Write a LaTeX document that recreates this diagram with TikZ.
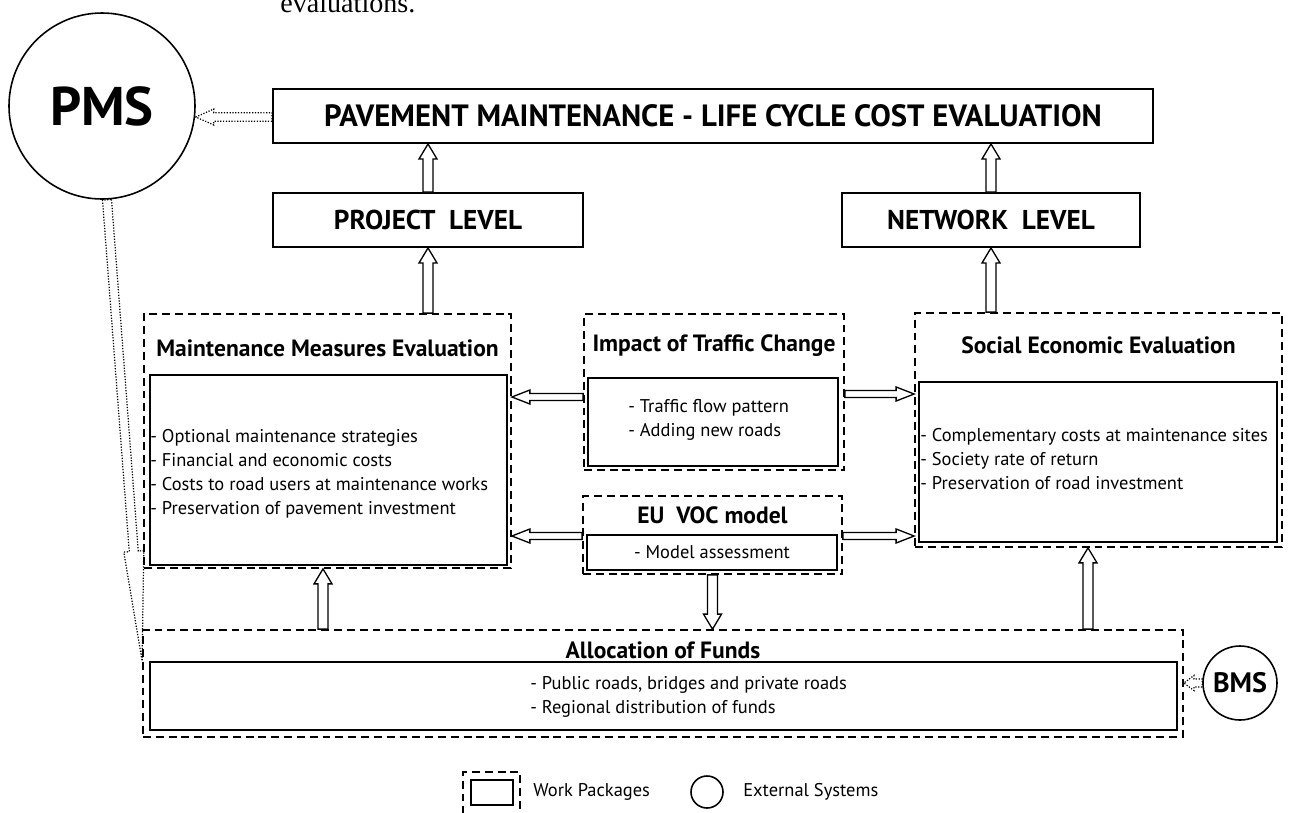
\documentclass[tikz,border=0pt]{standalone}
\usepackage{fontspec}
\setmainfont{PT Sans}
\newfontfamily\bodyserif{Liberation Serif}
\usetikzlibrary{calc,fit}

% hollow block arrow: [options]{start}{tip}{shaft half width}{head half width}{head length}
\newcommand\blockarrow[6][]{%
  \coordinate (hb) at ($(#3)!#6!(#2)$);
  \draw[arrowline,#1]
    ($(#2)!#4!90:(#3)$) -- ($(hb)!#4!90:(#3)$) -- ($(hb)!#5!90:(#3)$) --
    (#3) --
    ($(hb)!#5!-90:(#3)$) -- ($(hb)!#4!-90:(#3)$) -- ($(#2)!#4!-90:(#3)$) -- cycle;
}

\begin{document}
\begin{tikzpicture}[x=0.02cm,y=-0.02cm,
  sbox/.style={draw, line width=1.1pt, inner sep=0pt},
  dbox/.style={draw, line width=1pt, dash pattern=on 4.5pt off 2.8pt, inner sep=0pt},
  arrowline/.style={line width=0.75pt, fill=white},
  dotline/.style={line width=0.7pt, dash pattern=on 0.7pt off 0.9pt, fill=none},
  ttl/.style={font=\bfseries\fontsize{13.4}{15}\selectfont, inner sep=0pt},
  lvl/.style={font=\bfseries\fontsize{15.5}{17}\selectfont, inner sep=0pt},
  lst/.style={font=\fontsize{10.5}{13.6}\selectfont, align=left, inner sep=0pt},
  leg/.style={font=\fontsize{10.5}{12}\selectfont, inner sep=0pt, anchor=west},
]
\useasboundingbox (0,0) rectangle (1295,812);

% fragment of running text above the figure
\node[anchor=base west, inner sep=0pt, font=\bodyserif\fontsize{16}{18}\selectfont] (txt) at (280,12) {evaluations.};

% external systems
\node[draw, circle, line width=0.9pt, minimum size=186*0.02cm, inner sep=0pt,
      font=\bfseries\fontsize{31}{33}\selectfont] (pms) at (102,106) {PMS};
\node[draw, circle, line width=0.9pt, minimum size=74*0.02cm, inner sep=0pt,
      font=\bfseries\fontsize{16}{18}\selectfont] (bms) at (1240,683) {BMS};

% summary levels
\node[sbox, fit={(273,89) (1153,143)}] (top) {};
\node[font=\bfseries\fontsize{17.5}{19}\selectfont, inner sep=0pt] at (top.center) {PAVEMENT MAINTENANCE - LIFE CYCLE COST EVALUATION};
\node[sbox, fit={(273,193) (583,247)}] (prj) {};
\node[lvl] at (prj.center) {PROJECT\ \ LEVEL};
\node[sbox, fit={(842,193) (1140,247)}] (net) {};
\node[lvl] at (net.center) {NETWORK\ \ LEVEL};

% work packages
\node[dbox, fit={(144,314) (511,568)}] (mme) {};
\node[sbox, fit={(150,375) (507,565)}] (mmei) {};
\node[ttl] at (mme.north |- 0,348) {Maintenance Measures Evaluation};
\node[lst, anchor=west] at (150,474) {- Optional maintenance strategies\\- Financial and economic costs\\- Costs to road users at maintenance works\\- Preservation of pavement investment};

\node[dbox, fit={(584,314) (844,470)}] (itc) {};
\node[sbox, fit={(588,378) (838,466)}] (itci) {};
\node[ttl] at (itc.north |- 0,346) {Impact of Traffic Change};
\node[lst, anchor=west] at (628,420) {- Traffic flow pattern\\- Adding new roads};

\node[dbox, fit={(583,496) (842,574)}] (voc) {};
\node[sbox, fit={(587,535) (837,570)}] (voci) {};
\node[ttl] at (voc.north |- 0,515) {EU\ \ VOC model};
\node[lst] at (voci.center) {- Model assessment};

\node[dbox, fit={(915,313) (1282,547)}] (see) {};
\node[sbox, fit={(919,382) (1277,542)}] (seei) {};
\node[ttl] at (see.north |- 0,345) {Social Economic Evaluation};
\node[lst, anchor=west] at (920,459) {- Complementary costs at maintenance sites\\- Society rate of return\\- Preservation of road investment};

\node[dbox, fit={(143,630) (1183,737)}] (alc) {};
\node[sbox, fit={(150,662) (1177,730)}] (alci) {};
\node[ttl] at (alc.north |- 0,650) {Allocation of Funds};
\node[lst, anchor=west] at (530,697) {- Public roads, bridges and private roads\\- Regional distribution of funds};

% arrow levels
\coordinate (yitc) at (0,397);
\coordinate (yitc2) at (0,394);
\coordinate (yvoc) at (0,536);
\coordinate (xl) at (323,0);
\coordinate (xr) at (1088,0);
\coordinate (ypms) at (0,117);

% vertical block arrows
\blockarrow{prj.north}{prj.north |- top.south}{0.1cm}{0.18cm}{0.3cm}
\blockarrow{prj.south |- mme.north}{prj.south}{0.1cm}{0.18cm}{0.3cm}
\blockarrow{net.north}{net.north |- top.south}{0.1cm}{0.18cm}{0.3cm}
\blockarrow{net.south |- see.north}{net.south}{0.1cm}{0.18cm}{0.3cm}
\blockarrow{xl |- alc.north}{xl |- mme.south}{0.1cm}{0.18cm}{0.3cm}
\blockarrow{xr |- alc.north}{xr |- see.south}{0.1cm}{0.18cm}{0.3cm}
\blockarrow{voc.south}{voc.south |- alc.north}{0.1cm}{0.18cm}{0.3cm}

% horizontal block arrows
\blockarrow{itc.west |- yitc}{mme.east |- yitc}{0.07cm}{0.14cm}{0.36cm}
\blockarrow{itc.east |- yitc2}{see.west |- yitc2}{0.07cm}{0.14cm}{0.36cm}
\blockarrow{voc.west |- yvoc}{mme.east |- yvoc}{0.07cm}{0.14cm}{0.36cm}
\blockarrow{voc.east |- yvoc}{see.west |- yvoc}{0.07cm}{0.14cm}{0.36cm}

% links to the external systems
\blockarrow[dotline]{top.west |- ypms}{pms.east |- ypms}{0.085cm}{0.16cm}{0.36cm}
\coordinate (pmsfoot) at ($(pms.south)+(5,0)$);
\blockarrow[dotline]{pmsfoot}{alc.west |- alci.north}{0.09cm}{0.2cm}{2.2cm}
\blockarrow[dotline]{bms.west}{alc.east |- bms.west}{0.08cm}{0.15cm}{0.2cm}

% legend
\node[dbox, fit={(463,772) (520,816)}] (lgw) {};
\node[sbox, fit={(471,780) (513,805)}] (lgwi) {};
\node[leg] (lgwt) at (533,792) {Work Packages};
\node[draw, circle, line width=0.9pt, minimum size=32*0.02cm, inner sep=0pt] (lgc) at (707,792) {};
\node[leg] (lgct) at (743,792) {External Systems};
\end{tikzpicture}
\end{document}
